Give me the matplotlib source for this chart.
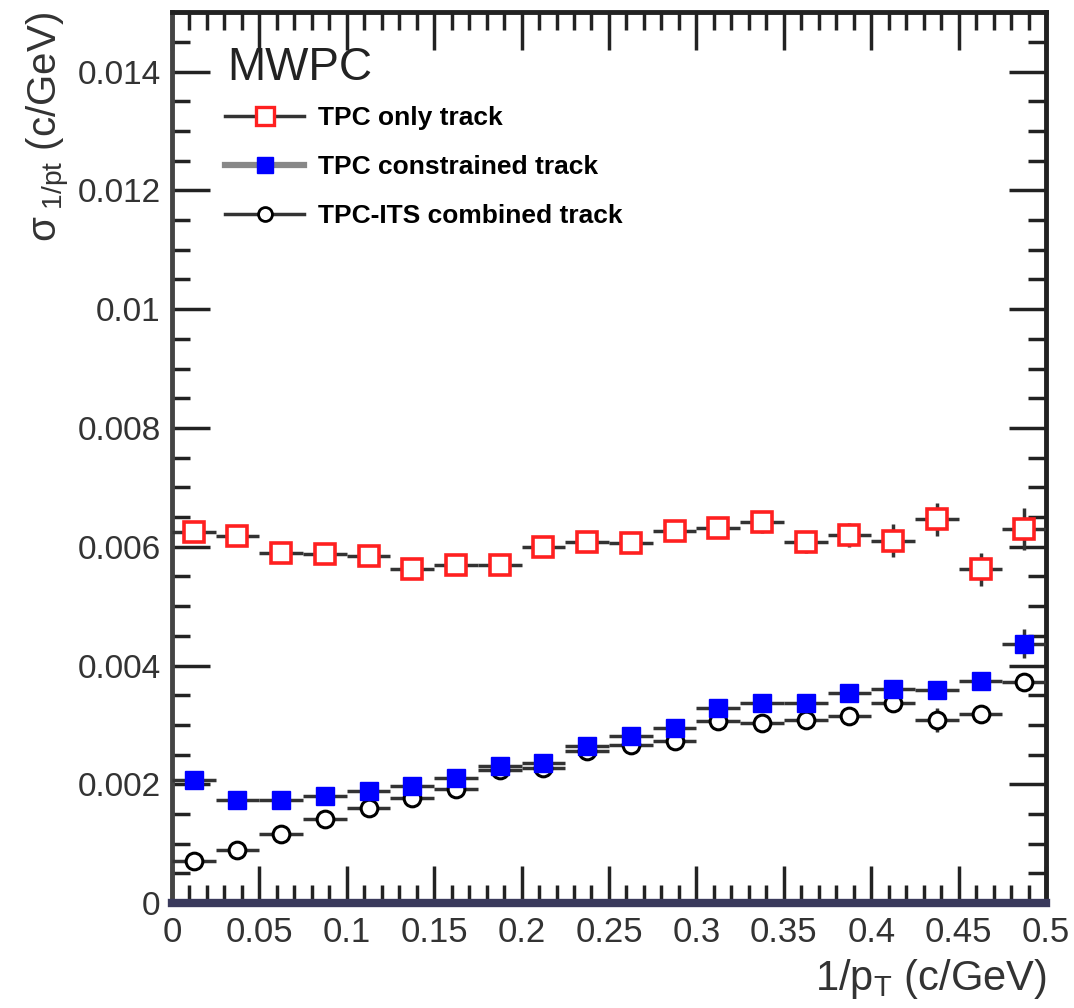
import matplotlib
matplotlib.use("Agg")
import matplotlib.pyplot as plt
from matplotlib.lines import Line2D
from matplotlib.ticker import MultipleLocator, FuncFormatter
import numpy as np

plt.rcParams['font.family'] = ['Liberation Sans', 'DejaVu Sans']
plt.rcParams['mathtext.fontset'] = 'custom'
plt.rcParams['mathtext.rm'] = 'Liberation Sans'
plt.rcParams['mathtext.it'] = 'Liberation Sans'

# bin centres (1/pT, c/GeV) and half bin width
x_centers = [0.0125, 0.0375, 0.0625, 0.0875, 0.1125, 0.1375, 0.1625, 0.1875, 0.2125, 0.2375,
             0.2625, 0.2875, 0.3125, 0.3375, 0.3625, 0.3875, 0.4125, 0.4375, 0.4625, 0.4875]
x_half = 0.0125

tpc_only = [0.00624, 0.00618, 0.00590, 0.00587, 0.00585, 0.00562, 0.00570, 0.00570, 0.00599, 0.00608,
            0.00607, 0.00626, 0.00632, 0.00641, 0.00608, 0.00620, 0.00610, 0.00646, 0.00562, 0.00630]
tpc_only_err = [0.00010, 0.00010, 0.00010, 0.00010, 0.00010, 0.00012, 0.00012, 0.00012, 0.00014, 0.00014,
                0.00015, 0.00016, 0.00017, 0.00018, 0.00018, 0.00020, 0.00028, 0.00028, 0.00028, 0.00035]

tpc_constrained = [0.00207, 0.00173, 0.00173, 0.00181, 0.00189, 0.00197, 0.00211, 0.00231, 0.00236, 0.00265,
                   0.00281, 0.00295, 0.00329, 0.00337, 0.00337, 0.00353, 0.00360, 0.00359, 0.00374, 0.00437]
tpc_constrained_err = [0.00005, 0.00005, 0.00005, 0.00005, 0.00005, 0.00006, 0.00006, 0.00006, 0.00007, 0.00007,
                       0.00008, 0.00008, 0.00009, 0.00009, 0.00010, 0.00010, 0.00011, 0.00012, 0.00013, 0.00024]

tpc_its = [0.00071, 0.00090, 0.00117, 0.00142, 0.00160, 0.00177, 0.00193, 0.00225, 0.00228, 0.00256,
           0.00267, 0.00273, 0.00307, 0.00304, 0.00309, 0.00315, 0.00337, 0.00308, 0.00319, 0.00372]
tpc_its_err = [0.00005, 0.00005, 0.00005, 0.00005, 0.00005, 0.00006, 0.00006, 0.00006, 0.00007, 0.00007,
               0.00008, 0.00008, 0.00009, 0.00009, 0.00010, 0.00010, 0.00014, 0.00020, 0.00012, 0.00012]

labels = ["TPC only track", "TPC constrained track", "TPC-ITS combined track"]

fig = plt.figure(figsize=(10.74, 10.08), dpi=100)
ax = fig.add_axes([0.160, 0.104, 0.814, 0.884])

ecol = '#333333'
ax.errorbar(x_centers, tpc_its, xerr=x_half, yerr=tpc_its_err, fmt='o', ms=12,
            mfc='white', mec='black', mew=2.2, ecolor=ecol, elinewidth=2.5, capsize=0, zorder=3)
ax.errorbar(x_centers, tpc_constrained, xerr=x_half, yerr=tpc_constrained_err, fmt='s', ms=13,
            mfc='#0000ff', mec='#0000ff', mew=1, ecolor=ecol, elinewidth=2.5, capsize=0, zorder=4)
ax.errorbar(x_centers, tpc_only, xerr=x_half, yerr=tpc_only_err, fmt='s', ms=15,
            mfc='white', mec='#ff2020', mew=2.6, ecolor=ecol, elinewidth=2.5, capsize=0, zorder=5)

ax.set_xlim(0, 0.5)
ax.set_ylim(0, 0.015)

ax.xaxis.set_major_locator(MultipleLocator(0.05))
ax.xaxis.set_minor_locator(MultipleLocator(0.01))
ax.yaxis.set_major_locator(MultipleLocator(0.002))
ax.yaxis.set_minor_locator(MultipleLocator(0.0005))

def fmt(v, pos):
    if abs(v) < 1e-12:
        return '0'
    s = ('%.3f' % v).rstrip('0').rstrip('.')
    return s
ax.xaxis.set_major_formatter(FuncFormatter(fmt))
ax.yaxis.set_major_formatter(FuncFormatter(fmt))

ax.tick_params(which='both', direction='in', top=True, right=True, colors='#222222', labelcolor='#333333')
ax.tick_params(which='major', length=27, width=2.5, pad=10)
ax.tick_params(which='minor', length=13, width=2.5)
ax.tick_params(axis='x', which='major', labelsize=25, pad=9)
ax.tick_params(axis='y', which='major', labelsize=24, pad=8)

for side in ['left', 'right', 'top']:
    ax.spines[side].set_linewidth(3.5)
    ax.spines[side].set_color('#222222')
ax.spines['left'].set_color('#444444')
ax.spines['bottom'].set_linewidth(6)
ax.spines['bottom'].set_color('#3a3a5c')

ax.set_xlabel(r'1/p$_{\mathrm{T}}$ (c/GeV)', fontsize=30, color='#333333', loc='right', labelpad=6)
ax.set_ylabel(r'$\sigma_{\ \mathrm{1/pt}}$ (c/GeV)', fontsize=29, color='#333333', loc='top', labelpad=4)

ax.text(0.063, 0.937, 'MWPC', transform=ax.transAxes, fontsize=33, color='#222222', va='center', ha='left')

handles = [
    Line2D([0], [0], color=ecol, lw=2.5, marker='s', ms=13, mfc='white', mec='#ff2020', mew=2.4),
    Line2D([0], [0], color='#888888', lw=4.5, marker='s', ms=12, mfc='#0000ff', mec='#0000ff'),
    Line2D([0], [0], color=ecol, lw=2.5, marker='o', ms=10, mfc='white', mec='black', mew=2),
]
leg = ax.legend(handles, labels, loc='upper left', bbox_to_anchor=(0.034, 0.921), frameon=False,
                handlelength=3.0, handletextpad=0.5, labelspacing=0.94,
                prop={'weight': 'bold', 'size': 19})

fig.savefig('out.png', dpi=100)
